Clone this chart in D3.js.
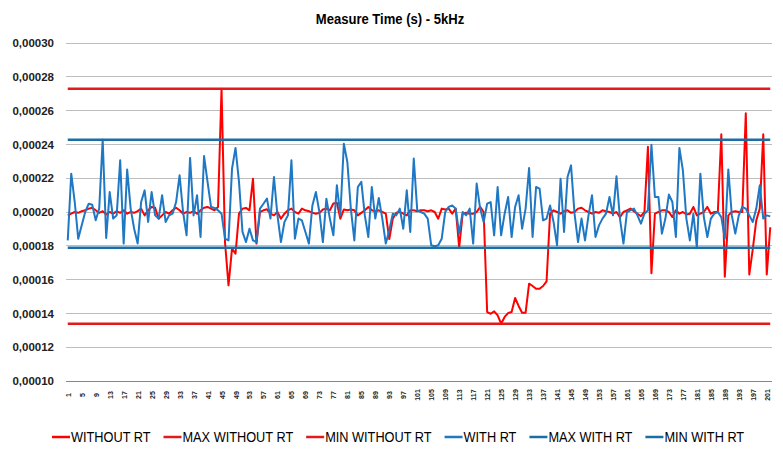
<!DOCTYPE html>
<html>
<head>
<meta charset="utf-8">
<script src="https://cdn.jsdelivr.net/npm/d3@7/dist/d3.min.js"></script>
<style>
  html, body { margin: 0; padding: 0; background: #ffffff; }
  svg { display: block; }
</style>
</head>
<body>
<div id="chart"></div>
<script>
// ---- Data (values in units of 1e-5 s) ----
const title = "Measure Time (s) - 5kHz";
const categories = d3.range(1, 203);
const xTickLabels = categories.filter(c => (c - 1) % 4 === 0);
const yTickValues = [10, 12, 14, 16, 18, 20, 22, 24, 26, 28, 30];
const yTickLabels = ["0,00010", "0,00012", "0,00014", "0,00016", "0,00018", "0,00020", "0,00022", "0,00024", "0,00026", "0,00028", "0,00030"];
const seriesNames = ["WITHOUT RT", "MAX WITHOUT RT", "MIN WITHOUT RT", "WITH RT", "MAX WITH RT", "MIN WITH RT"];

const withoutRT = [
  19.8, 19.9, 20.0, 19.95, 20.05, 20.1, 20.2, 20.25, 20.1, 19.95,
  20.05, 19.85, 20.0, 19.9, 20.05, 19.95, 20.1, 19.9, 20.0, 19.95,
  20.05, 20.2, 19.8, 20.1, 20.3, 20.25, 19.6, 19.8, 20.0, 19.9,
  20.1, 20.25, 20.1, 19.9, 20.0, 19.95, 20.05, 19.9, 20.1, 20.25,
  20.3, 20.2, 20.1, 20.3, 27.3, 18.2, 15.66, 17.83, 17.53, 19.9,
  20.2, 20.24, 20.1, 21.97, 18.13, 20.0, 20.1, 20.16, 19.9, 19.8,
  20.0, 19.6, 19.9, 20.1, 20.2, 20.0, 19.9, 20.2, 20.1, 20.05,
  19.95, 19.9, 19.95, 20.15, 20.2, 20.1, 20.5, 20.55, 19.6, 20.15,
  20.1, 20.15, 20.1, 19.8, 19.95, 20.1, 20.3, 20.1, 20.05, 20.1,
  20.0, 19.9, 18.4, 19.6, 19.95, 20.0, 19.9, 19.8, 20.1, 20.1,
  20.05, 20.1, 20.1, 20.05, 20.1, 20.0, 19.6, 20.2, 20.15, 20.2,
  19.9, 20.2, 17.9, 19.9, 19.95, 19.9, 19.9, 20.0, 20.3, 20.0,
  14.08, 13.98, 14.12, 13.89, 13.39, 13.79, 14.02, 14.08, 14.91, 14.44,
  14.04, 14.04, 15.76, 15.62, 15.46, 15.46, 15.62, 15.9, 19.9, 20.1,
  20.0, 19.9, 20.05, 20.1, 19.95, 20.0, 20.2, 20.25, 20.1, 20.0,
  19.9, 20.0, 19.95, 20.1, 20.05, 20.0, 19.9, 20.0, 19.7, 20.0,
  20.1, 20.2, 20.05, 19.9, 19.75, 20.0, 23.86, 16.37, 19.9, 20.0,
  20.1, 20.1, 20.0, 19.7, 20.1, 19.9, 20.0, 19.85, 19.9, 20.3,
  19.8, 19.9, 20.0, 20.3, 19.9, 20.0, 20.0, 24.6, 16.17, 19.8,
  20.0, 20.05, 20.0, 20.0, 25.84, 16.3, 17.8, 19.5, 20.2, 24.6,
  16.3, 19.1
];

const withRT = [
  18.32, 22.27, 20.59, 18.42, 19.21, 20.0, 20.49, 20.43, 19.51, 20.2,
  24.28, 18.46, 21.18, 19.61, 19.8, 23.06, 18.13, 22.52, 20.2, 19.01,
  18.13, 20.59, 21.28, 19.41, 21.18, 19.8, 19.61, 20.99, 19.41, 19.8,
  19.9, 20.59, 22.17, 20.0, 18.62, 23.2, 19.8, 20.99, 18.52, 23.31,
  21.78, 20.3, 20.24, 20.1, 19.9, 18.42, 18.32, 22.56, 23.79, 21.78,
  18.82, 18.22, 19.01, 18.32, 18.22, 20.2, 20.49, 20.79, 19.61, 22.07,
  19.8, 18.22, 19.41, 19.8, 23.06, 18.42, 19.61, 19.5, 18.82, 18.13,
  20.39, 21.18, 20.0, 18.22, 20.79, 19.61, 18.62, 21.58, 19.8, 24.04,
  22.96, 20.2, 18.32, 21.48, 21.78, 19.8, 18.52, 21.48, 19.61, 20.83,
  19.61, 18.13, 18.92, 19.9, 19.8, 20.2, 19.01, 21.28, 18.82, 23.16,
  20.1, 20.0, 19.9, 19.61, 18.03, 17.97, 18.03, 18.42, 20.0, 20.3,
  20.39, 20.2, 18.72, 20.0, 19.8, 20.2, 18.13, 21.68, 20.2, 19.41,
  20.49, 20.59, 18.62, 21.48, 18.62, 19.9, 20.89, 18.52, 20.3, 20.99,
  19.01, 20.2, 22.6, 18.52, 21.48, 21.38, 19.51, 19.61, 20.39, 19.41,
  18.03, 21.97, 18.82, 22.07, 22.76, 19.9, 18.22, 19.61, 18.32, 19.8,
  20.99, 18.52, 19.21, 19.61, 19.9, 20.89, 19.8, 22.11, 19.61, 18.13,
  20.0, 20.1, 20.2, 19.8, 19.31, 19.9, 20.1, 23.98, 20.89, 20.89,
  18.72, 19.61, 21.03, 20.59, 18.52, 23.79, 22.47, 19.61, 18.32, 19.9,
  17.9, 22.27, 19.7, 18.52, 19.61, 19.9, 20.0, 19.7, 18.42, 22.52,
  19.8, 18.72, 19.8, 20.3, 20.2, 19.8, 19.41, 20.2, 21.58, 19.61,
  19.8, 19.74
];

const maxWithoutRT = categories.map(() => 27.3);
const minWithoutRT = categories.map(() => 13.39);
const maxWithRT = categories.map(() => 24.28);
const minWithRT = categories.map(() => 17.89);

const seriesColors = ["#ff0000", "#e31a1c", "#e31a1c", "#1f78c4", "#1a6ea3", "#1a6ea3"];
const seriesWidths = [2, 2.5, 2.5, 2, 2.5, 2.5];

// ---- Layout ----
const W = 783, H = 454;
const plot = { left: 66, right: 772, top: 43, bottom: 381 };
const FONT = "'Liberation Sans', Arial, sans-serif";
const CONDENSE = 0.91;

const svg = d3.select("#chart").append("svg")
  .attr("width", W).attr("height", H);

const x = d3.scalePoint().domain(categories).range([plot.left, plot.right]).padding(0.5);
const y = d3.scaleLinear().domain([10, 30]).range([plot.bottom, plot.top]);

// Title
const tt = svg.append("text")
  .attr("x", 390).attr("y", 24)
  .attr("text-anchor", "middle")
  .attr("font-family", FONT)
  .attr("font-weight", "bold")
  .attr("font-size", "14.5px")
  .attr("fill", "#000")
  .text(title);
tt.attr("textLength", tt.node().getComputedTextLength() * 0.9).attr("lengthAdjust", "spacingAndGlyphs");

// Gridlines
svg.append("g").selectAll("line")
  .data(yTickValues.filter(v => v > 10))
  .join("line")
  .attr("x1", plot.left).attr("x2", plot.right)
  .attr("y1", d => y(d)).attr("y2", d => y(d))
  .attr("stroke", "#bebebe").attr("stroke-width", 1).attr("shape-rendering", "crispEdges");

// Y axis labels (no axis line)
const yAxis = d3.axisLeft(y).tickValues(yTickValues)
  .tickFormat((d, i) => yTickLabels[i]).tickSize(0).tickPadding(12);
const gy = svg.append("g").attr("transform", `translate(${plot.left},0)`).call(yAxis);
gy.select(".domain").remove();
gy.selectAll("text")
  .attr("font-family", FONT)
  .attr("font-weight", "bold")
  .attr("font-size", "11.5px")
  .attr("fill", "#222");

// X axis
const xAxis = d3.axisBottom(x).tickValues(xTickLabels).tickSize(0).tickPadding(0);
const gx = svg.append("g").attr("transform", `translate(0,${plot.bottom})`).call(xAxis);
gx.select(".domain")
  .attr("d", `M${plot.left},0.5H${plot.right}`)
  .attr("stroke", "#868686").attr("stroke-width", 1);
gx.selectAll("text")
  .attr("font-family", FONT)
  .attr("font-weight", "bold")
  .attr("font-size", "7px")
  .attr("fill", "#222")
  .attr("text-anchor", "middle")
  .attr("dy", null)
  .attr("transform", "translate(0,14) rotate(-90)")
  .attr("x", 0).attr("y", 0)
  .attr("dominant-baseline", "central");

// Series
const allSeries = [withoutRT, maxWithoutRT, minWithoutRT, withRT, maxWithRT, minWithRT];
const line = d3.line().x((d, i) => x(categories[i])).y(d => y(d));
allSeries.forEach((s, k) => {
  svg.append("path")
    .datum(s)
    .attr("fill", "none")
    .attr("stroke", seriesColors[k])
    .attr("stroke-width", seriesWidths[k])
    .attr("stroke-linejoin", "round")
    .attr("d", line);
});

// Legend
const legend = svg.append("g").attr("transform", "translate(0,437)");
let lx = 52;
seriesNames.forEach((name, k) => {
  const g = legend.append("g").attr("transform", `translate(${lx},0)`);
  g.append("line").attr("x1", 0).attr("x2", 18).attr("y1", 0).attr("y2", 0)
    .attr("stroke", seriesColors[k]).attr("stroke-width", 2.5);
  const t = g.append("text").attr("x", 19).attr("y", 0)
    .attr("dominant-baseline", "central")
    .attr("font-family", FONT)
    .attr("font-size", "14px")
    .attr("fill", "#000")
    .text(name);
  const w = t.node().getComputedTextLength() * CONDENSE;
  t.attr("textLength", w).attr("lengthAdjust", "spacingAndGlyphs");
  lx += 19 + w + 13;
});
</script>
</body>
</html>
